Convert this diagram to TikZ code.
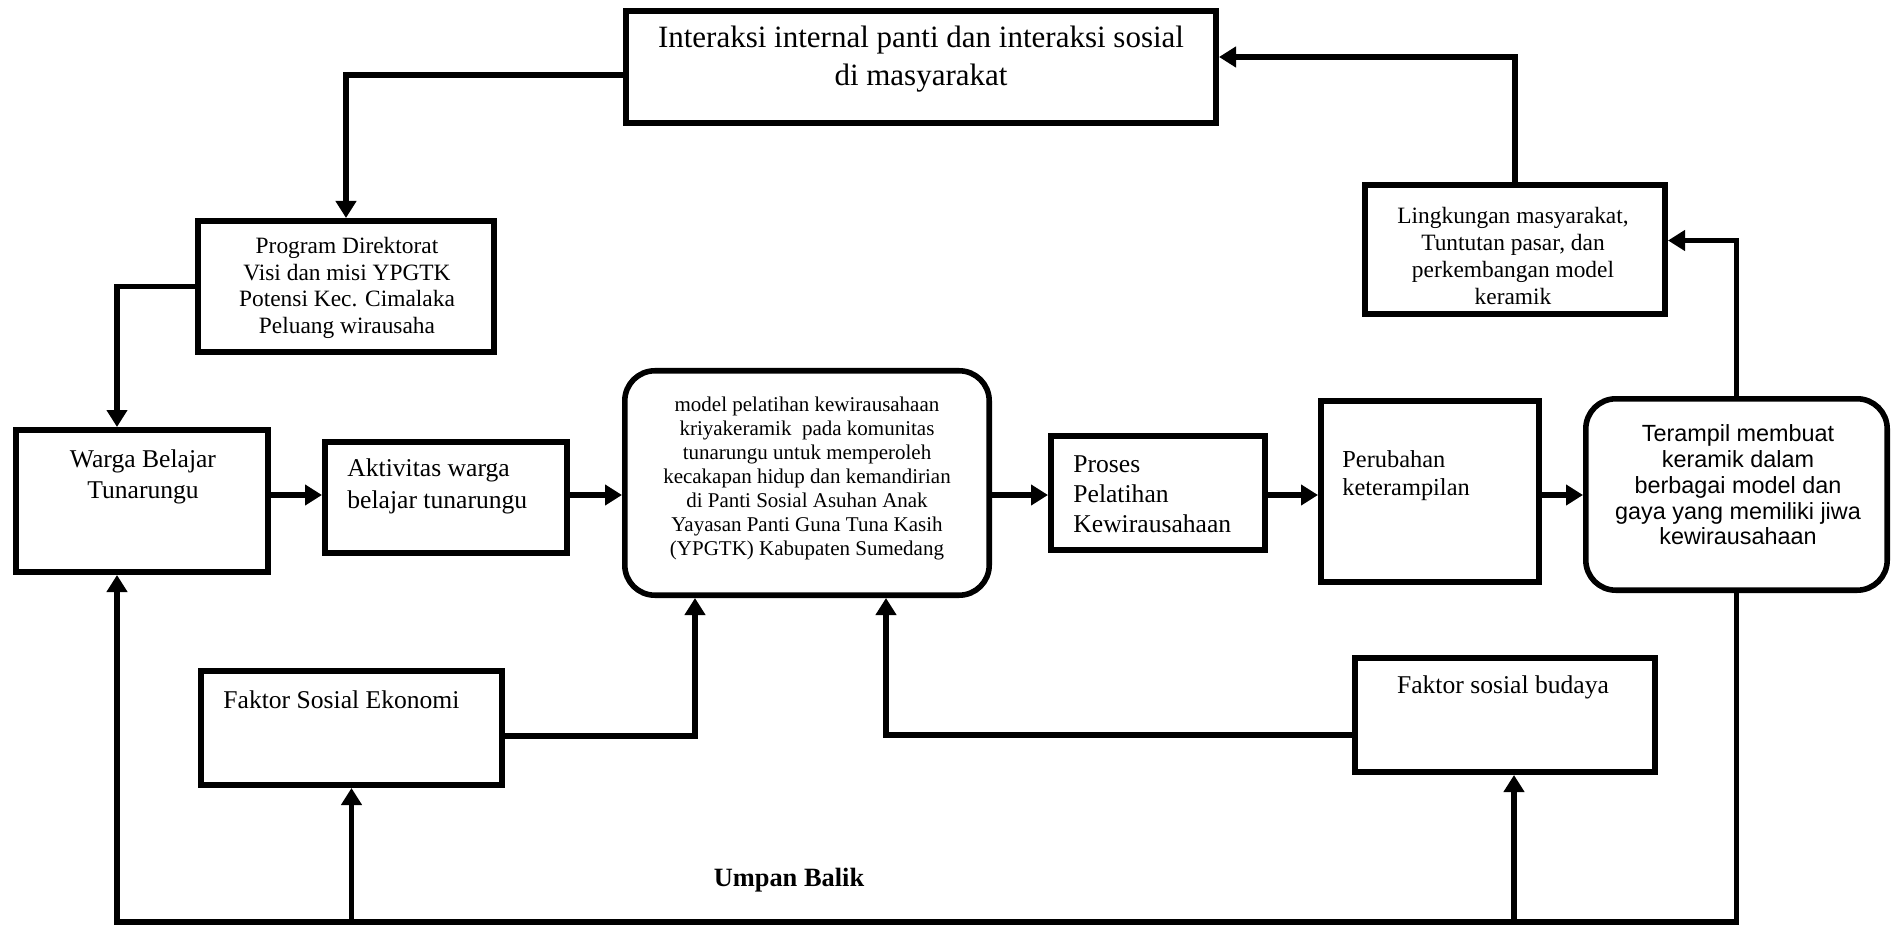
\documentclass[tikz,border=0pt]{standalone}
\usepackage{fontspec}
\setmainfont{Liberation Serif}
\newfontfamily\arialfont{Liberation Sans}
\usetikzlibrary{arrows.meta, positioning}

\begin{document}
\begin{tikzpicture}[x=0.5pt, y=-0.5pt,
        box/.style={draw, rectangle, line width=2.8pt, inner sep=0pt},
        roundbox/.style={box, rounded corners=15pt},
        txt/.style={inner sep=0pt, align=center, font=\fontsize{12.8pt}{15.5pt}\selectfont},
        ltxt/.style={txt, align=left, anchor=west},
        smalltxt/.style={txt, font=\fontsize{11.7pt}{13.4pt}\selectfont},
        arr/.style={line width=2.8pt, -{Triangle[length=8.5pt, width=10pt]}}]
    \useasboundingbox (0,0) rectangle (1891,925);

    \node[box, minimum width=295.2pt, minimum height=56.2pt] (inter) at (921,67) {};
    \node[box, minimum width=148.2pt, minimum height=65.7pt] (program) at (346,286.5) {};
    \node[box, minimum width=150.2pt, minimum height=64.7pt] (lingkungan) at (1515,249.5) {};
    \node[box, minimum width=126.2pt, minimum height=71.2pt] (warga) at (142,501) {};
    \node[box, minimum width=121.2pt, minimum height=55.7pt] (aktivitas) at (446,497.5) {};
    \node[roundbox, minimum width=182.2pt, minimum height=112.2pt] (model) at (807,483) {};
    \node[box, minimum width=107.2pt, minimum height=57.2pt] (proses) at (1158,493) {};
    \node[box, minimum width=109.2pt, minimum height=90.7pt] (perubahan) at (1430,491.5) {};
    \node[roundbox, minimum width=150.7pt, minimum height=95.7pt] (terampil) at (1736.5,494.5) {};
    \node[box, minimum width=150.7pt, minimum height=57.2pt] (ekonomi) at (351.5,728) {};
    \node[box, minimum width=150.2pt, minimum height=57.2pt] (budaya) at (1505,715) {};

    \node[txt, font=\fontsize{15.5pt}{19pt}\selectfont] (inter-t) at (921,59)
        {Interaksi internal panti dan interaksi sosial\\di masyarakat};
    \node[smalltxt] (program-t) at (347,288)
        {Program Direktorat\\Visi dan misi YPGTK\\Potensi Kec. Cimalaka\\Peluang wirausaha};
    \node[smalltxt] (lingkungan-t) at (1513,256)
        {Lingkungan masyarakat,\\Tuntutan pasar, dan\\perkembangan model\\keramik};
    \node[txt] (warga-t) at (143,477) {Warga Belajar\\Tunarungu};
    \node[ltxt, font=\fontsize{12.8pt}{16pt}\selectfont] (aktivitas-t) at (347,486)
        {Aktivitas warga\\belajar tunarungu};
    \node[txt, font=\fontsize{10.5pt}{12pt}\selectfont] (model-t) at (807,478)
        {model pelatihan kewirausahaan\\kriyakeramik\ \ pada komunitas\\tunarungu untuk memperoleh\\kecakapan hidup dan kemandirian\\di Panti Sosial Asuhan Anak\\Yayasan Panti Guna Tuna Kasih\\(YPGTK) Kabupaten Sumedang};
    \node[ltxt, font=\fontsize{12.8pt}{15pt}\selectfont] (proses-t) at (1073,494)
        {Proses\\Pelatihan\\Kewirausahaan};
    \node[ltxt, font=\fontsize{12.2pt}{14pt}\selectfont] (perubahan-t) at (1342,476)
        {Perubahan\\keterampilan};
    \node[txt, font=\arialfont\fontsize{11.7pt}{12.9pt}\selectfont] (terampil-t) at (1738,485)
        {Terampil membuat\\keramik dalam\\berbagai model dan\\gaya yang memiliki jiwa\\kewirausahaan};
    \node[ltxt] (ekonomi-t) at (223,700) {Faktor Sosial Ekonomi};
    \node[txt] (budaya-t) at (1503,687) {Faktor sosial budaya};
    \node[txt, font=\bfseries\fontsize{13.2pt}{15pt}\selectfont] (umpan) at (789,880) {Umpan Balik};

    \coordinate (row) at (0,495);
    \coordinate (fbL) at (117,922);
    \coordinate (ekx) at (695,0);
    \coordinate (bdx) at (886,0);
    \coordinate (bux) at (1514,0);

    \draw[arr] ([yshift=-4pt]inter.west) -| (program.north);
    \draw[arr] (program.west) -| (fbL |- warga.north);
    \draw[arr] (warga.east |- row) -- (aktivitas.west |- row);
    \draw[arr] (aktivitas.east |- row) -- (model.west |- row);
    \draw[arr] (model.east |- row) -- (proses.west |- row);
    \draw[arr] (proses.east |- row) -- (perubahan.west |- row);
    \draw[arr] (perubahan.east |- row) -- (terampil.west |- row);
    \draw[arr] (terampil.north) |- ([yshift=4.5pt]lingkungan.east);
    \draw[arr] (lingkungan.north) |- ([yshift=5pt]inter.east);
    \draw[arr] ([yshift=-4pt]ekonomi.east) -| (ekx |- model.south);
    \draw[arr] ([yshift=-10pt]budaya.west) -| (bdx |- model.south);
    \draw[arr] (terampil.south) |- (fbL) -- (fbL |- warga.south);
    \draw[arr] (ekonomi.south |- fbL) -- (ekonomi.south);
    \draw[arr] (bux |- fbL) -- (bux |- budaya.south);
\end{tikzpicture}
\end{document}
